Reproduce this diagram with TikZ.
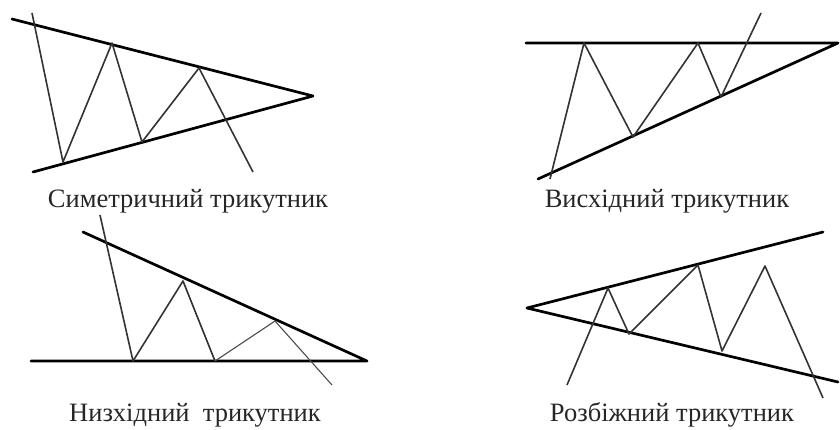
\documentclass[tikz,border=0pt]{standalone}
\usepackage{fontspec}
\setmainfont{Liberation Serif}
\begin{document}
\begin{tikzpicture}[x=1pt,y=-1pt,
  trend/.style={line width=2.7pt,black,line cap=round,line join=round},
  price/.style={line width=1.6pt,black!80,line join=round},
  pricethin/.style={line width=1.1pt,black!70,line join=round},
  captext/.style={font=\fontsize{26.5}{30}\selectfont,anchor=base,inner sep=0pt,text=black!85}]
\useasboundingbox (0,0) rectangle (840,429);
% --- symmetric triangle
\coordinate (s1) at (12,19);
\coordinate (s2) at (313,96);
\coordinate (s3) at (33,172);
\draw[trend] (s1) -- (s2) -- (s3);
\coordinate (sa) at (32,13);
\coordinate (sb) at (63,162);
\coordinate (sc) at (112,43);
\coordinate (sd) at (142,142);
\coordinate (se) at (199,68);
\coordinate (sf) at (253,172);
\draw[price] (sa) -- (sb) -- (sc) -- (sd) -- (se) -- (sf);
\node[captext] (t1) at (188,207) {Симетричний трикутник};
% --- ascending triangle
\coordinate (a1) at (526,43);
\coordinate (a2) at (838,43);
\coordinate (a3) at (538,179);
\draw[trend] (a1) -- (a2) -- (a3);
\coordinate (aa) at (550,179);
\coordinate (ab) at (584,43);
\coordinate (ac) at (633,137);
\coordinate (ad) at (698,43);
\coordinate (ae) at (721,97);
\coordinate (af) at (761,13);
\draw[price] (aa) -- (ab) -- (ac) -- (ad) -- (ae) -- (af);
\node[captext] (t2) at (667,207) {Висхідний трикутник};
% --- descending triangle
\coordinate (d1) at (83,232);
\coordinate (d2) at (367,361);
\coordinate (d3) at (31,361);
\draw[trend] (d1) -- (d2) -- (d3);
\coordinate (da) at (100,215);
\coordinate (db) at (133,361);
\coordinate (dc) at (183,281);
\coordinate (dd) at (215,361);
\draw[price] (da) -- (db) -- (dc) -- (dd);
\coordinate (de) at (275,321);
\coordinate (df) at (332,385);
\draw[pricethin] (dd) -- (de) -- (df);
\node[captext] (t3) at (195,421) {Низхідний\ \ трикутник};
% --- broadening triangle
\coordinate (b1) at (823,232);
\coordinate (b2) at (527,308);
\coordinate (b3) at (838,382);
\draw[trend] (b1) -- (b2) -- (b3);
\coordinate (ba) at (567,385);
\coordinate (bb) at (608,288);
\coordinate (bc) at (629,334);
\coordinate (bd) at (698,265);
\coordinate (be) at (722,351);
\coordinate (bf) at (765,266);
\coordinate (bg) at (823,398);
\draw[price] (ba) -- (bb) -- (bc) -- (bd) -- (be) -- (bf) -- (bg);
\node[captext] (t4) at (672,421) {Розбіжний трикутник};
\end{tikzpicture}
\end{document}
